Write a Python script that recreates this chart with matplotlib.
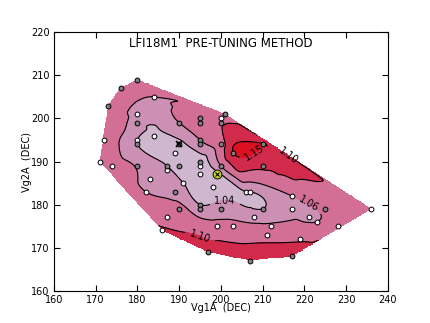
import numpy as np
import matplotlib
matplotlib.use('Agg')
import matplotlib.pyplot as plt
import matplotlib.tri as mtri

# ---- data ----
vg1a = [180, 176, 173, 184, 180, 180, 172, 180, 180, 184, 171, 174, 180, 183, 182,
        190, 190, 189, 187, 187, 190, 191, 189, 187, 190, 186,
        195, 195, 195, 195, 195, 195, 195, 195, 195, 198, 199,
        200, 200, 201, 200, 200, 200, 199, 197, 203, 203, 206, 207, 207, 208,
        210, 210, 210, 212, 211, 217, 217, 217, 219, 221, 223, 225, 228, 236]
vg2a = [209, 207, 203, 205, 201, 199, 195, 195, 194, 196, 190, 189, 189, 186, 183,
        199, 194, 192, 189, 188, 189, 185, 183, 177, 179, 174,
        200, 199, 195, 194, 190, 189, 187, 180, 179, 184, 187,
        200, 199, 201, 194, 189, 179, 175, 169, 192, 175, 183, 183, 167, 177,
        189, 179, 194, 175, 173, 182, 179, 168, 172, 177, 176, 179, 175, 179]
ratio = [1.085, 1.085, 1.085, 1.060, 1.050, 1.050, 1.080, 1.040, 1.040, 1.035, 1.085, 1.075, 1.058, 1.050, 1.060,
         1.060, 1.035, 1.035, 1.040, 1.042, 1.035, 1.040, 1.050, 1.085, 1.070, 1.105,
         1.075, 1.075, 1.060, 1.055, 1.030, 1.030, 1.030, 1.040, 1.045, 1.030, 1.035,
         1.090, 1.095, 1.070, 1.080, 1.060, 1.048, 1.070, 1.125, 1.150, 1.070, 1.040, 1.040, 1.130, 1.050,
         1.110, 1.040, 1.150, 1.065, 1.085, 1.060, 1.050, 1.125, 1.095, 1.055, 1.060, 1.065, 1.080, 1.075]
kind = ['g', 'g', 'g', 'w', 'w', 'g', 'w', 'w', 'g', 'w', 'w', 'w', 'g', 'w', 'w',
        'g', 'g', 'w', 'g', 'w', 'g', 'w', 'g', 'w', 'g', 'w',
        'g', 'g', 'g', 'g', 'g', 'w', 'w', 'g', 'g', 'w', 'w',
        'w', 'g', 'g', 'g', 'g', 'g', 'w', 'g', 'g', 'w', 'w', 'w', 'g', 'w',
        'g', 'g', 'g', 'w', 'w', 'w', 'w', 'g', 'w', 'w', 'w', 'g', 'w', 'w']
ref_x, ref_y = 190, 194          # crossed reference point
best_x, best_y = 199, 187        # chosen bias point

levels = [1.00, 1.04, 1.06, 1.10, 1.15, 1.30]
line_levels = [1.04, 1.06, 1.10, 1.15]
fill_colors = ['#cfb8cf', '#cb90b4', '#d36e95', '#d22a4a', '#dc1020']
label_pos = [(201, 180.4), (221, 180.0), (216, 191.3), (195, 172.4), (207.5, 192.7)]

x = np.array(vg1a, float)
y = np.array(vg2a, float)
z = np.array(ratio, float)

fig = plt.figure(figsize=(4.31, 3.23), dpi=100)
ax = fig.add_axes([0.125, 0.1, 0.775, 0.8])

tri = mtri.Triangulation(x, y)
interp = mtri.CubicTriInterpolator(tri, z, kind='geom')
xi = np.linspace(160, 240, 401)
yi = np.linspace(160, 220, 301)
X, Y = np.meshgrid(xi, yi)
Z = interp(X, Y)

ax.contourf(X, Y, Z, levels=levels, colors=fill_colors)
cs = ax.contour(X, Y, Z, levels=line_levels, colors='k', linewidths=0.8)
ax.clabel(cs, fmt='%.2f', fontsize=7, manual=label_pos, inline=True)

kind_arr = np.array(kind)
for k, fc in (('w', 'white'), ('g', '#808080')):
    m = kind_arr == k
    ax.scatter(x[m], y[m], s=12, facecolors=fc, edgecolors='k', linewidths=0.7, zorder=5)
ax.plot(ref_x, ref_y, marker='x', color='k', markersize=4, mew=1.2, zorder=6)
ax.scatter([best_x], [best_y], s=40, facecolors='#c8dc1e', edgecolors='k', linewidths=0.7, zorder=6)
ax.plot(best_x, best_y, marker='x', color='k', markersize=3, mew=0.8, zorder=7)

ax.set_xlim(160, 240)
ax.set_ylim(160, 220)
ax.set_xticks(range(160, 241, 10))
ax.set_yticks(range(160, 221, 10))
ax.tick_params(direction='in', top=True, right=True, labelsize=7, length=4, pad=3)
ax.set_xlabel('Vg1A  (DEC)', fontsize=7, labelpad=-1)
ax.set_ylabel('Vg2A  (DEC)', fontsize=7, labelpad=-1)
ax.text(0.5, 0.982, 'LFI18M1  PRE-TUNING METHOD', transform=ax.transAxes,
        ha='center', va='top', fontsize=8.5)

fig.savefig('out.png', dpi=100)
